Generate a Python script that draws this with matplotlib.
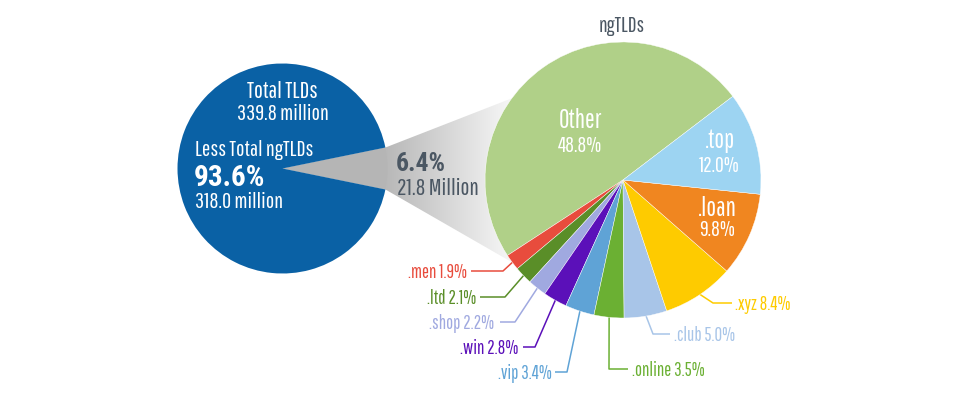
import numpy as np
import matplotlib
matplotlib.use("Agg")
import matplotlib.pyplot as plt
from matplotlib.patches import Polygon

REG = ['Pathway Gothic One', 'Roboto Condensed', 'DejaVu Sans']
BOLD = ['Roboto Condensed', 'Oswald', 'DejaVu Sans']
plt.rcParams['font.family'] = REG

# ---------------- data ----------------
total_label = "Total TLDs"
total_value = "339.8 million"
legacy_share = 93.6
legacy_value = "318.0 million"
ngtld_share = 6.4
ngtld_value = "21.8 Million"

tld_names = ["Other", ".men", ".ltd", ".shop", ".win", ".vip", ".online", ".club", ".xyz", ".loan", ".top"]
tld_shares = [48.8, 1.9, 2.1, 2.2, 2.8, 3.4, 3.5, 5.0, 8.4, 9.8, 12.0]
tld_colors = ["#b0d088", "#e84c3d", "#5a8e28", "#a0a9e0", "#5b10b9", "#5fa3d6",
              "#6bb033", "#a8c5e8", "#fecb00", "#f08620", "#9dd4f2"]

# ---------------- layout ----------------
W, H = 974, 395
fig = plt.figure(figsize=(W / 100, H / 100), dpi=100)
ax = fig.add_axes([0, 0, 1, 1])
ax.set_xlim(0, W)
ax.set_ylim(0, H)
ax.set_aspect('equal')
ax.axis('off')


def Y(y):
    return H - y


lc = (282.5, Y(168.5))
lr = 105
rc = (623, Y(180))
rr = 138

# funnel (gradient) from left wedge to right pie
half = ngtld_share / 100 * 180
a_up = np.deg2rad(half)
p_up = (lc[0] + lr * np.cos(a_up), lc[1] + lr * np.sin(a_up))
p_dn = (lc[0] + lr * np.cos(a_up), lc[1] - lr * np.sin(a_up))
arc = np.deg2rad(np.linspace(143.7, 216.7, 40))
arc_pts = np.column_stack([rc[0] + rr * np.cos(arc), rc[1] + rr * np.sin(arc)])
poly_pts = np.vstack([[lc], [p_up], arc_pts, [p_dn]])
poly = Polygon(poly_pts, closed=True, facecolor='none', edgecolor='none')
ax.add_patch(poly)
gx = np.linspace(0, 1, 256)
vals = np.clip((gx * (620 - 270) + 270 - 385) / (515 - 385), 0, 1)
grey = 0.72 + (0.975 - 0.72) * vals
img = np.tile(grey[None, :, None], (2, 1, 3))
im = ax.imshow(img, extent=[270, 620, Y(300), Y(40)], aspect='auto', zorder=1,
               interpolation='bilinear')
im.set_clip_path(poly)

# left pie
ax.pie([ngtld_share, legacy_share], colors=["#b5b5b5", "#0a61a5"], startangle=-half,
       center=lc, radius=lr, wedgeprops=dict(linewidth=0), frame=True)

# right pie
wedges, _ = ax.pie(tld_shares, colors=tld_colors, startangle=37.3, center=rc, radius=rr,
                   wedgeprops=dict(linewidth=0.3, edgecolor='white'), frame=True)
ax.set_xlim(0, W)
ax.set_ylim(0, H)
ax.axis('off')

# texts on left pie (baseline positions)
ax.text(282.5, Y(97.5), total_label, color='white', fontsize=17, ha='center', va='baseline')
ax.text(282.5, Y(120), total_value, color='white', fontsize=16, ha='center', va='baseline')
ax.text(195, Y(156.5), "Less Total ngTLDs", color='white', fontsize=16, ha='left', va='baseline')
ax.text(194, Y(186.5), f"{legacy_share:.1f}%", color='white', fontsize=21, fontweight='bold',
        family=BOLD, ha='left', va='baseline')
ax.text(195, Y(208), legacy_value, color='white', fontsize=16, ha='left', va='baseline')

dark = "#4b5763"
ax.text(396, Y(171), f"{ngtld_share:.1f}%", color=dark, fontsize=18.5, fontweight='bold',
        family=BOLD, ha='left', va='baseline')
ax.text(397, Y(195), ngtld_value, color=dark, fontsize=17, ha='left', va='baseline')
ax.text(622, Y(32), "ngTLDs", color=dark, fontsize=15.5, ha='center', va='baseline')

# in-wedge labels: name -> (x, baseline of name, baseline of share)
inside = {"Other": (580.5, 128, 151.5), ".top": (719.5, 148, 172), ".loan": (717.5, 215.5, 236.5)}
for i, name in enumerate(tld_names):
    if name in inside:
        x, y1, y2 = inside[name]
        ax.text(x, Y(y1), name, color='white', fontsize=18.5, ha='center', va='baseline')
        ax.text(x, Y(y2), f"{tld_shares[i]:.1f}%", color='white', fontsize=15.5,
                ha='center', va='baseline')

# external labels: name -> (elbow_x, line_y, line_end_x, text_x, ha)
outside = {
    ".men": (503, 271, 471, 467, 'right'),
    ".ltd": (505, 297, 480, 476, 'right'),
    ".shop": (515, 322, 500, 494, 'right'),
    ".win": (535, 347, 523, 518, 'right'),
    ".vip": (567, 372, 555, 552, 'right'),
    ".online": (609, 369, 628, 632, 'left'),
    ".club": (653, 334, 670, 674, 'left'),
    ".xyz": (713, 303, 732, 735, 'left'),
}
for i, name in enumerate(tld_names):
    if name not in outside:
        continue
    w = wedges[i]
    mid = np.deg2rad((w.theta1 + w.theta2) / 2)
    sx, sy = rc[0] + (rr - 2) * np.cos(mid), rc[1] + (rr - 2) * np.sin(mid)
    ex, ly, lx, tx, ha = outside[name]
    ax.plot([sx, ex, lx], [sy, Y(ly), Y(ly)], color=tld_colors[i], lw=1.1, zorder=0.5,
            solid_capstyle='butt')
    ax.text(tx, Y(ly + 7), f"{name} {tld_shares[i]:.1f}%", color=tld_colors[i], fontsize=13.5,
            ha=ha, va='baseline')

fig.savefig("out.png", dpi=100, facecolor='white')
